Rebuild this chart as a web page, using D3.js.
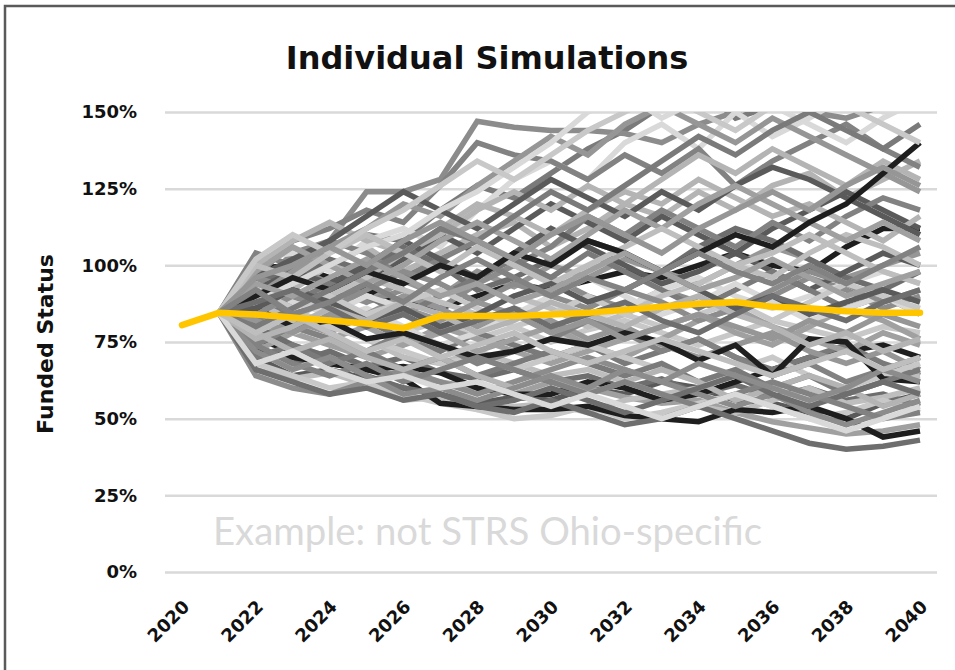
<!DOCTYPE html>
<html>
<head>
<meta charset="utf-8">
<script src="https://cdn.jsdelivr.net/npm/d3@7"></script>
<style>
  body { margin: 0; background: #fff; }
  .axis text { font-family: "DejaVu Sans", sans-serif; font-weight: bold; fill: #111; }
</style>
</head>
<body>
<div class="chart"></div>
<script>
var svgWidth = 955;
var svgHeight = 670;

// years on the x axis and the labelled ones
var years = d3.range(2020, 2041);
var yearTicks = [2020, 2022, 2024, 2026, 2028, 2030, 2032, 2034, 2036, 2038, 2040];
var pctTicks = [0, 25, 50, 75, 100, 125, 150];

// median path (2020..2040), funded status in %
var median = [80.5, 84.5, 84, 83, 82, 81, 79.5, 83.5, 83.5, 83.5, 84, 84.5, 85.5, 86.5, 87.5, 88, 86.5, 86, 85, 84.5, 84.5];

// individual simulations, 2021..2040
var simYears = d3.range(2021, 2041);
var sims = [
  [84.5, 99, 100, 96, 92, 88, 86, 90, 94, 92, 95, 98, 96, 100, 104, 100, 98, 106, 112, 112],
  [84.5, 70, 64, 66, 63, 60, 58, 55, 57, 56, 60, 58, 62, 60, 56, 55, 52, 50, 55, 58],
  [84.5, 92, 98, 105, 110, 108, 118, 126, 122, 130, 138, 144, 152, 158, 148, 152, 160, 158, 162, 165],
  [84.5, 92, 104, 108, 124, 124, 128, 147, 145, 144, 144, 143, 140, 146, 150, 155, 150, 148, 152, 156],
  [84.5, 78, 74, 70, 66, 64, 62, 60, 58, 62, 60, 57, 55, 56, 52, 49, 47, 45, 46, 48],
  [84.5, 96, 92, 100, 106, 98, 104, 110, 114, 106, 112, 120, 116, 124, 118, 126, 130, 122, 128, 134],
  [84.5, 82, 86, 80, 84, 78, 82, 76, 80, 75, 79, 82, 78, 74, 78, 82, 79, 76, 80, 78],
  [84.5, 102, 104, 98, 108, 112, 106, 118, 128, 134, 128, 140, 146, 138, 150, 142, 148, 155, 150, 152],
  [84.5, 74, 68, 72, 67, 70, 65, 63, 66, 62, 64, 60, 63, 58, 61, 57, 60, 56, 58, 54],
  [84.5, 90, 86, 92, 88, 95, 90, 98, 93, 100, 96, 102, 98, 94, 100, 106, 102, 96, 100, 104],
  [84.5, 66, 63, 65, 61, 56, 57, 53, 54, 55, 52, 56, 58, 54, 52, 56, 60, 55, 57, 60],
  [84.5, 96, 108, 112, 118, 114, 126, 140, 136, 134, 128, 136, 130, 138, 126, 134, 140, 146, 138, 132],
  [84.5, 76, 72, 68, 66, 67, 65, 60, 58, 58, 62, 60, 56, 58, 62, 66, 70, 72, 74, 70],
  [84.5, 86, 92, 89, 96, 102, 110, 104, 112, 120, 114, 108, 116, 110, 104, 112, 118, 124, 118, 112],
  [84.5, 80, 84, 88, 82, 76, 72, 78, 74, 70, 74, 68, 72, 76, 70, 66, 70, 74, 68, 64],
  [84.5, 94, 100, 94, 88, 92, 86, 94, 100, 96, 90, 86, 92, 88, 84, 90, 96, 92, 86, 90],
  [84.5, 72, 78, 74, 70, 74, 80, 76, 72, 68, 72, 76, 80, 84, 78, 74, 80, 86, 82, 76],
  [84.5, 90, 96, 102, 96, 104, 110, 118, 124, 118, 126, 120, 128, 136, 130, 138, 132, 126, 134, 128],
  [84.5, 68, 64, 60, 62, 58, 55, 53, 50, 51, 54, 50, 52, 55, 58, 54, 50, 52, 56, 52],
  [84.5, 84, 78, 82, 86, 80, 74, 78, 84, 88, 82, 86, 92, 96, 90, 86, 90, 94, 98, 94],
  [84.5, 98, 94, 102, 98, 106, 100, 92, 96, 102, 108, 104, 98, 106, 112, 108, 102, 96, 92, 98],
  [84.5, 76, 82, 78, 84, 90, 86, 80, 86, 82, 76, 80, 74, 70, 74, 78, 72, 68, 72, 66],
  [84.5, 88, 84, 80, 76, 70, 68, 72, 68, 64, 66, 62, 58, 60, 64, 60, 56, 58, 62, 64],
  [84.5, 104, 100, 108, 104, 96, 102, 108, 100, 106, 116, 110, 118, 112, 106, 114, 108, 116, 122, 118],
  [84.5, 72, 70, 68, 66, 63, 55, 54, 53, 53, 54, 51, 50, 49, 53, 52, 54, 50, 44, 46],
  [84.5, 92, 98, 94, 100, 108, 102, 96, 104, 112, 106, 100, 94, 98, 104, 98, 92, 98, 104, 100],
  [84.5, 82, 88, 94, 90, 84, 90, 96, 102, 96, 104, 98, 92, 86, 92, 98, 92, 86, 90, 84],
  [84.5, 64, 60, 58, 62, 66, 62, 58, 62, 66, 70, 66, 62, 58, 54, 58, 52, 48, 52, 56],
  [84.5, 86, 80, 76, 80, 74, 78, 72, 76, 80, 74, 70, 76, 82, 86, 80, 76, 72, 78, 74],
  [84.5, 100, 108, 114, 108, 104, 112, 120, 116, 110, 118, 124, 120, 128, 122, 116, 120, 114, 108, 116],
  [84.5, 78, 84, 80, 76, 72, 68, 70, 66, 70, 74, 70, 66, 62, 66, 70, 64, 60, 64, 68],
  [84.5, 94, 88, 84, 90, 86, 82, 88, 84, 90, 96, 90, 84, 88, 94, 88, 82, 86, 90, 84],
  [84.5, 80, 74, 70, 64, 60, 58, 54, 52, 56, 52, 48, 50, 54, 50, 46, 42, 40, 41, 43],
  [84.5, 90, 98, 106, 112, 120, 116, 126, 134, 142, 136, 146, 152, 146, 140, 148, 142, 136, 130, 124],
  [84.5, 88, 82, 90, 96, 92, 88, 84, 90, 86, 80, 84, 90, 94, 100, 96, 104, 110, 106, 100],
  [84.5, 74, 80, 76, 72, 78, 74, 68, 72, 76, 82, 78, 72, 76, 70, 64, 68, 62, 66, 70],
  [84.5, 86, 80, 82, 76, 78, 74, 70, 72, 76, 74, 78, 75, 69, 74, 64, 76, 75, 63, 62],
  [84.5, 96, 102, 108, 116, 124, 118, 112, 120, 128, 122, 116, 124, 118, 126, 132, 128, 122, 116, 110],
  [84.5, 70, 74, 68, 72, 66, 70, 64, 68, 72, 68, 64, 68, 62, 66, 60, 64, 58, 62, 66],
  [84.5, 84, 90, 86, 92, 98, 94, 88, 94, 90, 86, 92, 88, 82, 86, 92, 98, 94, 88, 92],
  [84.5, 98, 106, 100, 94, 100, 108, 114, 108, 102, 110, 118, 112, 120, 126, 120, 114, 108, 114, 108],
  [84.5, 78, 72, 76, 70, 66, 70, 64, 60, 64, 58, 62, 66, 62, 56, 60, 64, 60, 54, 58],
  [84.5, 92, 86, 90, 84, 88, 92, 86, 80, 84, 90, 84, 80, 84, 88, 82, 88, 94, 90, 86],
  [84.5, 88, 94, 100, 106, 110, 118, 124, 132, 140, 150, 156, 148, 154, 160, 152, 146, 140, 148, 154],
  [84.5, 66, 62, 58, 60, 56, 58, 54, 56, 60, 56, 52, 56, 60, 64, 58, 54, 58, 62, 58],
  [84.5, 82, 78, 84, 80, 86, 82, 88, 84, 78, 82, 76, 80, 84, 80, 76, 82, 78, 84, 80],
  [84.5, 100, 96, 104, 110, 104, 98, 106, 100, 94, 100, 106, 112, 106, 100, 104, 110, 104, 98, 94],
  [84.5, 74, 68, 64, 68, 62, 66, 70, 66, 62, 58, 62, 58, 54, 58, 62, 58, 54, 50, 52],
  [84.5, 90, 96, 92, 98, 94, 100, 96, 104, 100, 108, 104, 98, 104, 110, 106, 114, 120, 130, 140],
  [84.5, 86, 92, 88, 82, 86, 80, 84, 90, 94, 88, 92, 98, 92, 86, 90, 84, 88, 92, 88],
  [84.5, 80, 86, 92, 98, 104, 112, 108, 116, 124, 118, 126, 134, 142, 136, 144, 150, 144, 138, 146],
  [84.5, 72, 66, 70, 64, 58, 60, 56, 60, 64, 60, 66, 62, 68, 64, 60, 56, 60, 66, 62],
  [84.5, 94, 90, 96, 102, 96, 90, 94, 88, 92, 98, 104, 98, 92, 96, 102, 96, 90, 94, 98],
  [84.5, 76, 80, 86, 82, 88, 84, 78, 82, 88, 84, 80, 86, 90, 84, 80, 74, 78, 72, 76],
  [84.5, 102, 110, 104, 112, 118, 126, 134, 128, 136, 144, 150, 156, 150, 144, 152, 158, 152, 146, 140],
  [84.5, 68, 72, 66, 62, 64, 60, 62, 58, 54, 58, 54, 50, 54, 58, 54, 50, 46, 50, 54],
  [84.5, 88, 92, 86, 80, 84, 78, 82, 86, 80, 84, 88, 82, 78, 84, 90, 86, 82, 88, 92],
  [84.5, 96, 100, 106, 100, 108, 114, 108, 102, 110, 116, 110, 104, 112, 118, 124, 118, 126, 132, 126],
  [84.5, 78, 84, 78, 72, 76, 70, 74, 78, 72, 68, 72, 76, 72, 68, 64, 68, 72, 66, 70],
  [84.5, 92, 84, 88, 94, 88, 96, 102, 96, 90, 96, 92, 98, 104, 98, 94, 100, 94, 100, 106]
];

// grey shades cycled over the simulations
var greys = ["#1e1e1e", "#5a5a5a", "#7a7a7a", "#8c8c8c", "#a0a0a0", "#b4b4b4",
             "#c8c8c8", "#d9d9d9", "#6e6e6e", "#969696", "#bebebe", "#828282"];

var plot = { left: 165, right: 937, top: 112, bottom: 572 };

var svg = d3.select(".chart")
  .append("svg")
  .attr("width", svgWidth)
  .attr("height", svgHeight);

// outer frame
svg.append("rect")
  .attr("x", 5)
  .attr("y", 6)
  .attr("width", 980)
  .attr("height", 700)
  .attr("fill", "none")
  .attr("stroke", "#5a5a5a")
  .attr("stroke-width", 2.5);

var xScale = d3.scaleLinear().domain([2020, 2040]).range([182, 920]);
var yScale = d3.scaleLinear().domain([0, 150]).range([plot.bottom, plot.top]);

// y axis + gridlines
var yAxis = svg.append("g")
  .attr("class", "axis")
  .attr("transform", `translate(${plot.left}, 0)`)
  .call(d3.axisLeft(yScale)
    .tickValues(pctTicks)
    .tickSize(-(plot.right - plot.left))
    .tickPadding(28)
    .tickFormat(d => d + "%"));
yAxis.select(".domain").remove();
yAxis.selectAll("line").attr("stroke", "#d9d9d9").attr("stroke-width", 2.5);
yAxis.selectAll("text").style("font-size", "18px");

// watermark
svg.append("text")
  .attr("x", 213)
  .attr("y", 545)
  .attr("textLength", 549)
  .attr("lengthAdjust", "spacingAndGlyphs")
  .style("font-family", "Lato, 'Open Sans', sans-serif")
  .style("font-size", "39px")
  .attr("fill", "#d9d9d9")
  .text("Example: not STRS Ohio-specific");

// x axis labels
var xAxis = svg.append("g")
  .attr("class", "axis")
  .attr("transform", `translate(0, ${plot.bottom})`)
  .call(d3.axisBottom(xScale).tickValues(yearTicks).tickSize(0).tickFormat(d3.format("d")));
xAxis.select(".domain").remove();
xAxis.selectAll("text")
  .style("font-size", "18px")
  .attr("text-anchor", "end")
  .attr("dy", null)
  .attr("y", 0)
  .attr("transform", "translate(8, 36) rotate(-45)");

// clip the simulations at the top of the plot
svg.append("clipPath")
  .attr("id", "plotClip")
  .append("rect")
  .attr("x", plot.left)
  .attr("y", plot.top)
  .attr("width", plot.right - plot.left)
  .attr("height", plot.bottom - plot.top + 20);

var simLine = d3.line()
  .x((d, i) => xScale(simYears[i]))
  .y(d => yScale(d));

var simGroup = svg.append("g").attr("clip-path", "url(#plotClip)");

simGroup.selectAll("path.sim")
  .data(sims)
  .enter()
  .append("path")
  .attr("class", "sim")
  .attr("d", simLine)
  .attr("fill", "none")
  .attr("stroke", (d, i) => greys[i % greys.length])
  .attr("stroke-width", 5.5)
  .attr("stroke-linejoin", "miter");

var medLine = d3.line()
  .x((d, i) => xScale(years[i]))
  .y(d => yScale(d));

simGroup.append("path")
  .datum(median)
  .attr("d", medLine)
  .attr("fill", "none")
  .attr("stroke", "#ffc600")
  .attr("stroke-width", 6.5)
  .attr("stroke-linecap", "round");

// title
svg.append("text")
  .attr("x", 487)
  .attr("y", 69)
  .attr("text-anchor", "middle")
  .style("font-family", "'DejaVu Sans', sans-serif")
  .style("font-weight", "bold")
  .style("font-size", "32px")
  .attr("fill", "#111")
  .text("Individual Simulations");

// y axis title
svg.append("text")
  .attr("transform", "translate(53, 344) rotate(-90)")
  .attr("text-anchor", "middle")
  .style("font-family", "'DejaVu Sans', sans-serif")
  .style("font-weight", "bold")
  .style("font-size", "22px")
  .attr("fill", "#111")
  .text("Funded Status");
</script>
</body>
</html>
